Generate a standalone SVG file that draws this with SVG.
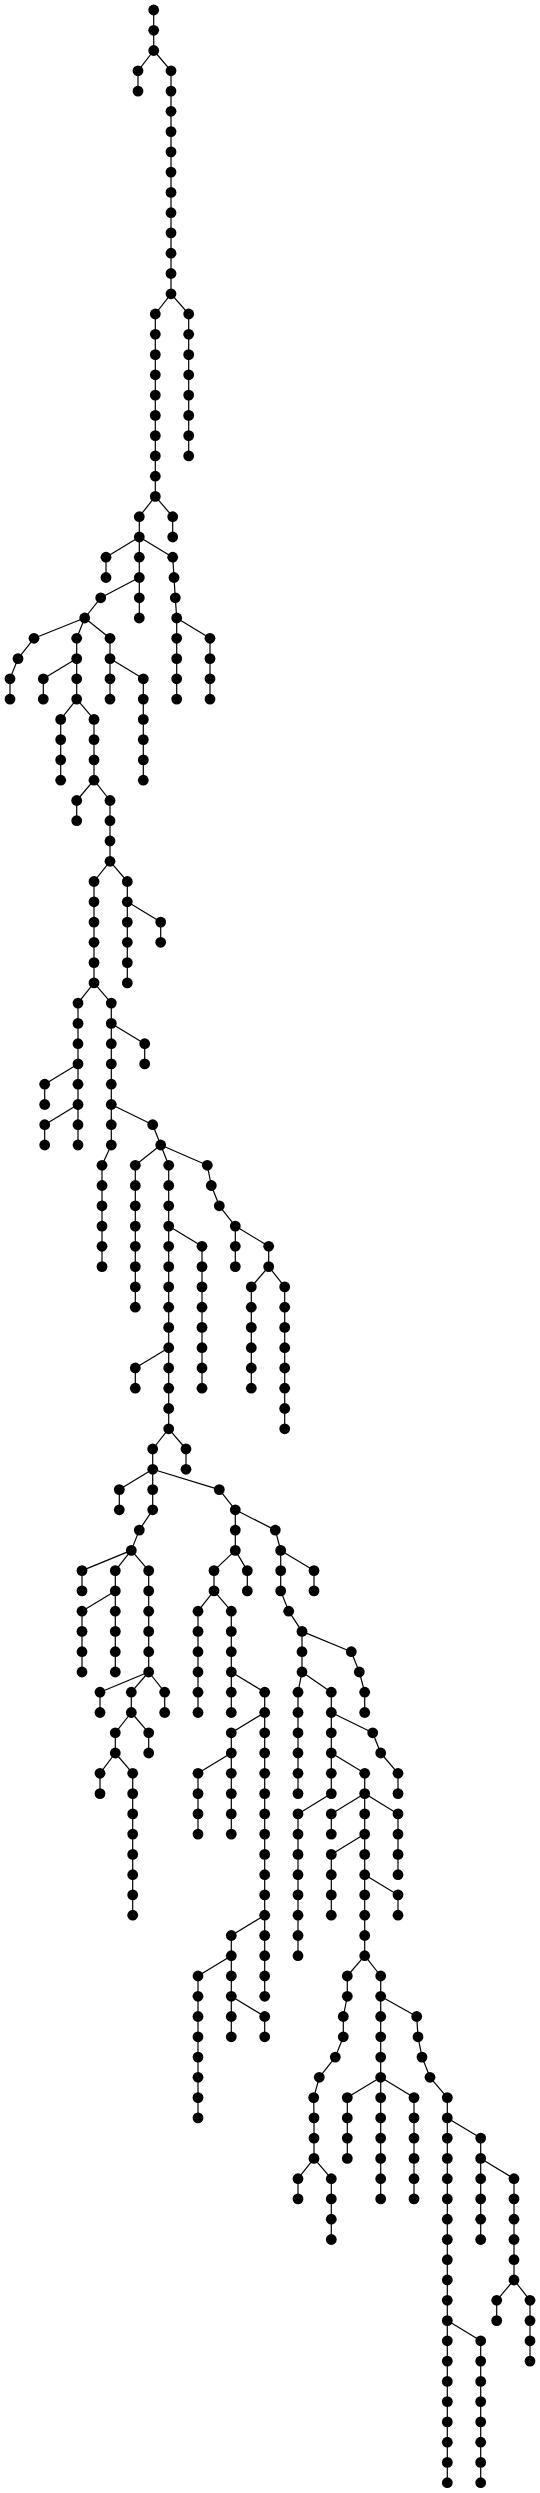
<svg xmlns="http://www.w3.org/2000/svg" width="540" height="2493" viewBox="0 0 540 2493">
<style>
#edges path{stroke:#000;stroke-width:1.2;fill:none}
.nodes circle{fill:#000;r:5.4px}
</style>
<rect width="540" height="2493" fill="#fff"/>
<g id="edges">
<path d="M153.7 10V30.3"/><path d="M153.7 30.3V50.5"/><path d="M153.7 50.5L138 70.8"/><path d="M138 70.8V91.1"/><path d="M153.7 50.5L171 70.8"/>
<path d="M171 70.8V91.1"/><path d="M171 91.1V111.3"/><path d="M171 111.3V131.6"/><path d="M171 131.6V151.9"/><path d="M171 151.9V172.1"/><path d="M171 172.1V192.4"/><path d="M171 192.4V212.7"/><path d="M171 212.7V232.9"/><path d="M171 232.9V253.2"/><path d="M171 253.2V273.5"/><path d="M171 273.5V293.8"/>
<path d="M171 293.8L188.7 314"/><path d="M188.7 314V334.3"/><path d="M188.7 334.3V354.6"/><path d="M188.7 354.6V374.8"/><path d="M188.7 374.8V395.1"/><path d="M188.7 395.1V415.4"/><path d="M188.7 415.4V435.6"/><path d="M188.7 435.6V455.9"/>
<path d="M171 293.8L155.3 314"/><path d="M155.3 314V334.3"/><path d="M155.3 334.3V354.6"/><path d="M155.3 354.6V374.8"/><path d="M155.3 374.8V395.1"/><path d="M155.3 395.1V415.4"/><path d="M155.3 415.4V435.6"/><path d="M155.3 435.6V455.9"/><path d="M155.3 455.9V476.2"/><path d="M155.3 476.2V496.4"/>
<path d="M155.3 496.4L172.7 516.7"/><path d="M172.7 516.7V537"/><path d="M155.3 496.4L139.3 516.7"/><path d="M139.3 516.7V537"/>
<path d="M139.3 537L106 557.2"/><path d="M106 557.2V577.5"/>
<path d="M139.3 537V557.2"/><path d="M139.3 557.2V577.5"/><path d="M139.3 577.5V597.8"/><path d="M139.3 597.8V618"/>
<path d="M139.3 577.5L100.7 597.8"/><path d="M100.7 597.8L84.7 618"/>
<path d="M139.3 537L172.7 557.2"/><path d="M172.7 557.2L174 577.5"/><path d="M174 577.5L175.3 597.8"/><path d="M175.3 597.8L176.7 618"/>
<path d="M176.7 618V638.3"/><path d="M176.7 638.3V658.6"/><path d="M176.7 658.6V678.8"/><path d="M176.7 678.8V699.1"/>
<path d="M176.7 618L210 638.3"/><path d="M210 638.3V658.6"/><path d="M210 658.6V678.8"/><path d="M210 678.8V699.1"/>
<path d="M84.7 618L34 638.3"/><path d="M34 638.3L18 658.6"/><path d="M18 658.6L10 678.8"/><path d="M10 678.8V699.1"/>
<path d="M84.7 618L76.7 638.3"/><path d="M76.7 638.3V658.6"/><path d="M76.7 658.6V678.8"/><path d="M76.7 678.8V699.1"/>
<path d="M76.7 658.6L43.3 678.8"/><path d="M43.3 678.8V699.1"/>
<path d="M76.7 699.1L60.7 719.4"/><path d="M60.7 719.4V739.6"/><path d="M60.7 739.6V759.9"/><path d="M60.7 759.9V780.2"/>
<path d="M76.7 699.1L94 719.4"/><path d="M94 719.4V739.6"/><path d="M94 739.6V759.9"/><path d="M94 759.9V780.2"/>
<path d="M94 780.2L76.7 800.5"/><path d="M76.7 800.5V820.7"/>
<path d="M94 780.2L110 800.5"/><path d="M110 800.5V820.7"/><path d="M110 820.7V841"/><path d="M110 841V861.3"/>
<path d="M84.7 618L110 638.3"/><path d="M110 638.3V658.6"/><path d="M110 658.6V678.8"/><path d="M110 678.8V699.1"/>
<path d="M110 658.6L143.3 678.8"/><path d="M143.3 678.8V699.1"/><path d="M143.3 699.1V719.4"/><path d="M143.3 719.4V739.6"/><path d="M143.3 739.6V759.9"/><path d="M143.3 759.9V780.2"/>
<path d="M110 861.3L94 881.5"/><path d="M94 881.5V901.8"/><path d="M94 901.8V922.1"/><path d="M94 922.1V942.3"/><path d="M94 942.3V962.6"/><path d="M94 962.6V982.9"/>
<path d="M110 861.3L127.3 881.5"/><path d="M127.3 881.5V901.8"/><path d="M127.3 901.8V922.1"/><path d="M127.3 922.1V942.3"/><path d="M127.3 942.3V962.6"/><path d="M127.3 962.6V982.9"/>
<path d="M127.3 901.8L160.7 922.1"/><path d="M160.7 922.1V942.3"/>
<path d="M94 982.9L78 1003.1"/><path d="M78 1003.1V1023.4"/><path d="M78 1023.4V1043.7"/><path d="M78 1043.7V1063.9"/><path d="M78 1063.9V1084.2"/><path d="M78 1084.2V1104.5"/><path d="M78 1104.5V1124.7"/><path d="M78 1124.7V1145"/>
<path d="M78 1063.9L44.7 1084.2"/><path d="M44.7 1084.2V1104.5"/>
<path d="M78 1104.5L44.7 1124.7"/><path d="M44.7 1124.7V1145"/>
<path d="M94 982.9L111.3 1003.1"/><path d="M111.3 1003.1V1023.4"/><path d="M111.3 1023.4V1043.7"/><path d="M111.3 1043.7V1063.9"/><path d="M111.3 1063.9V1084.2"/><path d="M111.3 1084.2V1104.5"/><path d="M111.3 1104.5V1124.7"/><path d="M111.3 1124.7V1145"/>
<path d="M111.3 1023.4L144.7 1043.7"/><path d="M144.7 1043.7V1063.9"/>
<path d="M111.3 1145L102 1165.3"/><path d="M102 1165.3V1185.5"/><path d="M102 1185.5V1205.8"/><path d="M102 1205.8V1226.1"/><path d="M102 1226.1V1246.3"/><path d="M102 1246.3V1266.6"/>
<path d="M111.3 1104.5L152.7 1124.7"/><path d="M152.7 1124.7L160.7 1145"/>
<path d="M160.7 1145L135.3 1165.3"/><path d="M135.3 1165.3V1185.5"/><path d="M135.3 1185.5V1205.8"/><path d="M135.3 1205.8V1226.1"/><path d="M135.3 1226.1V1246.3"/><path d="M135.3 1246.3V1266.6"/><path d="M135.3 1266.6V1286.9"/><path d="M135.3 1286.9V1307.2"/>
<path d="M160.7 1145L168.7 1165.3"/><path d="M168.7 1165.3V1185.5"/><path d="M168.7 1185.5V1205.8"/><path d="M168.7 1205.8V1226.1"/><path d="M168.7 1226.1V1246.3"/><path d="M168.7 1246.3V1266.6"/><path d="M168.7 1266.6V1286.9"/><path d="M168.7 1286.9V1307.2"/><path d="M168.7 1307.2V1327.4"/><path d="M168.7 1327.4V1347.7"/><path d="M168.7 1347.7V1368"/><path d="M168.7 1368V1388.2"/><path d="M168.7 1388.2V1408.5"/><path d="M168.7 1408.5V1428.8"/>
<path d="M168.7 1226.1L202 1246.3"/><path d="M202 1246.3V1266.6"/><path d="M202 1266.6V1286.9"/><path d="M202 1286.9V1307.2"/><path d="M202 1307.2V1327.4"/><path d="M202 1327.4V1347.7"/><path d="M202 1347.7V1368"/><path d="M202 1368V1388.2"/>
<path d="M168.7 1347.7L135.3 1368"/><path d="M135.3 1368V1388.2"/>
<path d="M160.7 1145L207.3 1165.3"/><path d="M207.3 1165.3L211.3 1185.5"/><path d="M211.3 1185.5L219.3 1205.8"/><path d="M219.3 1205.8L235.3 1226.1"/><path d="M235.3 1226.1V1246.3"/><path d="M235.3 1246.3V1266.6"/>
<path d="M235.3 1226.1L268.7 1246.3"/><path d="M268.7 1246.3V1266.6"/>
<path d="M268.7 1266.6L251.3 1286.9"/><path d="M251.3 1286.9V1307.2"/><path d="M251.3 1307.2V1327.4"/><path d="M251.3 1327.4V1347.7"/><path d="M251.3 1347.7V1368"/><path d="M251.3 1368V1388.2"/>
<path d="M268.7 1266.6L284.7 1286.9"/><path d="M284.7 1286.9V1307.2"/><path d="M284.7 1307.2V1327.4"/><path d="M284.7 1327.4V1347.7"/><path d="M284.7 1347.7V1368"/><path d="M284.7 1368V1388.2"/><path d="M284.7 1388.2V1408.5"/><path d="M284.7 1408.5V1428.8"/>
<path d="M168.7 1428.8L152.7 1449"/><path d="M152.7 1449V1469.3"/>
<path d="M168.7 1428.8L186 1449"/><path d="M186 1449V1469.3"/>
<path d="M152.7 1469.3L119.3 1489.6"/><path d="M119.3 1489.6V1509.8"/>
<path d="M152.7 1469.3V1489.6"/><path d="M152.7 1489.6V1509.8"/><path d="M152.7 1509.8L139.3 1530.1"/><path d="M139.3 1530.1L131.3 1550.4"/>
<path d="M152.7 1469.3L219.3 1489.6"/><path d="M219.3 1489.6L235.3 1509.8"/>
<path d="M131.3 1550.4L82 1570.6"/><path d="M82 1570.6V1590.9"/>
<path d="M131.3 1550.4L115.3 1570.6"/><path d="M115.3 1570.6V1590.9"/><path d="M115.3 1590.9V1611.2"/><path d="M115.3 1611.2V1631.4"/><path d="M115.3 1631.4V1651.7"/><path d="M115.3 1651.7V1672"/>
<path d="M115.3 1590.9L82 1611.2"/><path d="M82 1611.2V1631.4"/><path d="M82 1631.4V1651.7"/><path d="M82 1651.7V1672"/>
<path d="M131.3 1550.4L148.7 1570.6"/><path d="M148.7 1570.6V1590.9"/><path d="M148.7 1590.9V1611.2"/><path d="M148.7 1611.2V1631.4"/><path d="M148.7 1631.4V1651.7"/><path d="M148.7 1651.7V1672"/>
<path d="M148.7 1672L100 1692.2"/><path d="M100 1692.2V1712.5"/>
<path d="M148.7 1672L131.3 1692.2"/><path d="M131.3 1692.2V1712.5"/>
<path d="M148.7 1672L164.7 1692.2"/><path d="M164.7 1692.2V1712.5"/>
<path d="M131.3 1712.5L148.7 1732.8"/><path d="M148.7 1732.8V1753"/>
<path d="M131.3 1712.5L115.3 1732.8"/><path d="M115.3 1732.8V1753"/>
<path d="M115.3 1753L100 1773.3"/><path d="M100 1773.3V1793.6"/>
<path d="M115.3 1753L132.7 1773.3"/><path d="M132.7 1773.3V1793.6"/><path d="M132.7 1793.6V1813.9"/><path d="M132.7 1813.9V1834.1"/><path d="M132.7 1834.1V1854.4"/><path d="M132.7 1854.4V1874.7"/><path d="M132.7 1874.7V1894.9"/><path d="M132.7 1894.9V1915.2"/>
<path d="M235.3 1509.8V1530.1"/><path d="M235.3 1530.1V1550.4"/>
<path d="M235.3 1509.8L275.3 1530.1"/><path d="M275.3 1530.1L280.7 1550.4"/>
<path d="M235.3 1550.4L214 1570.6"/><path d="M214 1570.6V1590.9"/>
<path d="M235.3 1550.4L247.3 1570.6"/><path d="M247.3 1570.6V1590.9"/>
<path d="M214 1590.9L198 1611.2"/><path d="M198 1611.2V1631.4"/><path d="M198 1631.4V1651.7"/><path d="M198 1651.7V1672"/><path d="M198 1672V1692.2"/><path d="M198 1692.2V1712.5"/>
<path d="M214 1590.9L231.3 1611.2"/><path d="M231.3 1611.2V1631.4"/><path d="M231.3 1631.4V1651.7"/><path d="M231.3 1651.7V1672"/>
<path d="M231.3 1672V1692.2"/><path d="M231.3 1692.2V1712.5"/>
<path d="M231.3 1672L264.7 1692.2"/><path d="M264.7 1692.2V1712.5"/><path d="M264.7 1712.5V1732.8"/><path d="M264.7 1732.8V1753"/><path d="M264.7 1753V1773.3"/><path d="M264.7 1773.3V1793.6"/><path d="M264.7 1793.6V1813.9"/><path d="M264.7 1813.9V1834.1"/><path d="M264.7 1834.1V1854.4"/><path d="M264.7 1854.4V1874.7"/><path d="M264.7 1874.7V1894.9"/><path d="M264.7 1894.9V1915.2"/><path d="M264.7 1915.2V1935.5"/><path d="M264.7 1935.5V1955.7"/><path d="M264.7 1955.7V1976"/><path d="M264.7 1976V1996.3"/>
<path d="M264.7 1712.5L231.3 1732.8"/><path d="M231.3 1732.8V1753"/>
<path d="M231.3 1753L198 1773.3"/><path d="M198 1773.3V1793.6"/><path d="M198 1793.6V1813.9"/><path d="M198 1813.9V1834.1"/>
<path d="M231.3 1753V1773.3"/><path d="M231.3 1773.3V1793.6"/><path d="M231.3 1793.6V1813.9"/><path d="M231.3 1813.9V1834.1"/>
<path d="M264.7 1915.2L231.3 1935.5"/><path d="M231.3 1935.5V1955.7"/><path d="M231.3 1955.7V1976"/><path d="M231.3 1976V1996.3"/><path d="M231.3 1996.3V2016.5"/><path d="M231.3 2016.5V2036.8"/>
<path d="M231.3 1955.7L198 1976"/><path d="M198 1976V1996.3"/><path d="M198 1996.3V2016.5"/><path d="M198 2016.5V2036.8"/><path d="M198 2036.8V2057.1"/><path d="M198 2057.1V2077.3"/><path d="M198 2077.3V2097.6"/><path d="M198 2097.6V2117.9"/>
<path d="M231.3 1996.3L264.7 2016.5"/><path d="M264.7 2016.5V2036.8"/>
<path d="M280.7 1550.4V1570.6"/><path d="M280.7 1570.6V1590.9"/><path d="M280.7 1590.9L288.7 1611.2"/><path d="M288.7 1611.2L302 1631.4"/>
<path d="M280.7 1550.4L314 1570.6"/><path d="M314 1570.6V1590.9"/>
<path d="M302 1631.4V1651.7"/><path d="M302 1651.7V1672"/>
<path d="M302 1631.4L351.3 1651.7"/><path d="M351.3 1651.7L359.3 1672"/><path d="M359.3 1672L364.7 1692.2"/><path d="M364.7 1692.2V1712.5"/>
<path d="M302 1672L298 1692.2"/><path d="M298 1692.2V1712.5"/><path d="M298 1712.5V1732.8"/><path d="M298 1732.8V1753"/><path d="M298 1753V1773.3"/><path d="M298 1773.3V1793.6"/>
<path d="M302 1672L331.3 1692.2"/><path d="M331.3 1692.2V1712.5"/><path d="M331.3 1712.5V1732.8"/><path d="M331.3 1732.8V1753"/><path d="M331.3 1753V1773.3"/><path d="M331.3 1773.3V1793.6"/>
<path d="M331.3 1712.5L372.7 1732.8"/><path d="M372.7 1732.8L380.7 1753"/><path d="M380.7 1753L398 1773.3"/><path d="M398 1773.3V1793.6"/>
<path d="M331.3 1753L364.7 1773.3"/><path d="M364.7 1773.3V1793.6"/>
<path d="M331.3 1793.6L298 1813.9"/><path d="M298 1813.9V1834.1"/><path d="M298 1834.1V1854.4"/><path d="M298 1854.4V1874.7"/><path d="M298 1874.7V1894.9"/><path d="M298 1894.9V1915.2"/><path d="M298 1915.2V1935.5"/><path d="M298 1935.5V1955.7"/>
<path d="M364.7 1793.6L331.3 1813.9"/><path d="M331.3 1813.9V1834.1"/>
<path d="M364.7 1793.6V1813.9"/><path d="M364.7 1813.9V1834.1"/><path d="M364.7 1834.1V1854.4"/><path d="M364.7 1854.4V1874.7"/><path d="M364.7 1874.7V1894.9"/><path d="M364.7 1894.9V1915.2"/><path d="M364.7 1915.2V1935.5"/><path d="M364.7 1935.5V1955.7"/>
<path d="M364.7 1834.1L331.3 1854.4"/><path d="M331.3 1854.4V1874.7"/><path d="M331.3 1874.7V1894.9"/><path d="M331.3 1894.9V1915.2"/>
<path d="M364.7 1874.7L398 1894.9"/><path d="M398 1894.9V1915.2"/>
<path d="M364.7 1793.6L398 1813.9"/><path d="M398 1813.9V1834.1"/><path d="M398 1834.1V1854.4"/><path d="M398 1854.4V1874.7"/>
<path d="M364.7 1955.7L347.3 1976"/><path d="M347.3 1976V1996.3"/><path d="M347.3 1996.3L343.3 2016.5"/><path d="M343.3 2016.5V2036.8"/><path d="M343.3 2036.8L335.3 2057.1"/><path d="M335.3 2057.1L319.3 2077.3"/><path d="M319.3 2077.3L313.7 2097.6"/><path d="M313.7 2097.6L314 2117.9"/><path d="M314 2117.9V2138.1"/><path d="M314 2138.1V2158.4"/>
<path d="M314 2158.4L298 2178.7"/><path d="M298 2178.7V2198.9"/>
<path d="M314 2158.4L331.3 2178.7"/><path d="M331.3 2178.7V2198.9"/><path d="M331.3 2198.9V2219.2"/><path d="M331.3 2219.2V2239.5"/>
<path d="M364.7 1955.7L380.7 1976"/><path d="M380.7 1976V1996.3"/>
<path d="M380.7 1996.3V2016.5"/><path d="M380.7 2016.5V2036.8"/><path d="M380.7 2036.8V2057.1"/><path d="M380.7 2057.1V2077.3"/>
<path d="M380.7 1996.3L416.7 2016.5"/><path d="M416.7 2016.5L418 2036.8"/><path d="M418 2036.8L422 2057.1"/><path d="M422 2057.1L430 2077.3"/><path d="M430 2077.3L447.3 2097.6"/>
<path d="M447.3 2097.6V2117.9"/><path d="M447.3 2117.9V2138.1"/><path d="M447.3 2138.1V2158.4"/><path d="M447.3 2158.4V2178.7"/><path d="M447.3 2178.7V2198.9"/><path d="M447.3 2198.9V2219.2"/><path d="M447.3 2219.2V2239.5"/><path d="M447.3 2239.5V2259.7"/><path d="M447.3 2259.7V2280"/><path d="M447.3 2280V2300.3"/><path d="M447.3 2300.3V2320.6"/>
<path d="M447.3 2117.9L480.7 2138.1"/><path d="M480.7 2138.1V2158.4"/><path d="M480.7 2158.4V2178.7"/><path d="M480.7 2178.7V2198.9"/><path d="M480.7 2198.9V2219.2"/><path d="M480.7 2219.2V2239.5"/>
<path d="M480.7 2158.4L514 2178.7"/><path d="M514 2178.7V2198.9"/><path d="M514 2198.9V2219.2"/><path d="M514 2219.2V2239.5"/><path d="M514 2239.5V2259.7"/><path d="M514 2259.7V2280"/>
<path d="M514 2280L496.7 2300.3"/><path d="M496.7 2300.3V2320.6"/>
<path d="M514 2280L530 2300.3"/><path d="M530 2300.3V2320.6"/><path d="M530 2320.6V2340.8"/><path d="M530 2340.8V2361.1"/>
<path d="M447.3 2320.6V2340.8"/><path d="M447.3 2340.8V2361.1"/><path d="M447.3 2361.1V2381.4"/><path d="M447.3 2381.4V2401.6"/><path d="M447.3 2401.6V2421.9"/><path d="M447.3 2421.9V2442.2"/><path d="M447.3 2442.2V2462.4"/><path d="M447.3 2462.4V2482.7"/>
<path d="M447.3 2320.6L480.7 2340.8"/><path d="M480.7 2340.8V2361.1"/><path d="M480.7 2361.1V2381.4"/><path d="M480.7 2381.4V2401.6"/><path d="M480.7 2401.6V2421.9"/><path d="M480.7 2421.9V2442.2"/><path d="M480.7 2442.2V2462.4"/><path d="M480.7 2462.4V2482.7"/>
<path d="M380.7 2077.3L347.3 2097.6"/><path d="M347.3 2097.6V2117.9"/><path d="M347.3 2117.9V2138.1"/><path d="M347.3 2138.1V2158.4"/>
<path d="M380.7 2077.3V2097.6"/><path d="M380.7 2097.6V2117.9"/><path d="M380.7 2117.9V2138.1"/><path d="M380.7 2138.1V2158.4"/><path d="M380.7 2158.4V2178.7"/><path d="M380.7 2178.7V2198.9"/>
<path d="M380.7 2077.3L414 2097.6"/><path d="M414 2097.6V2117.9"/><path d="M414 2117.9V2138.1"/><path d="M414 2138.1V2158.4"/><path d="M414 2158.4V2178.7"/><path d="M414 2178.7V2198.9"/>
</g>
<g class="nodes">
<g id="n1"><circle cx="153.7" cy="10"/></g><g id="n2"><circle cx="153.7" cy="30.3"/></g><g id="n3"><circle cx="153.7" cy="50.5"/></g><g id="n4"><circle cx="138" cy="70.8"/></g><g id="n5"><circle cx="138" cy="91.1"/></g>
<g id="n6"><circle cx="171" cy="70.8"/></g><g id="n7"><circle cx="171" cy="91.1"/></g><g id="n8"><circle cx="171" cy="111.3"/></g><g id="n9"><circle cx="171" cy="131.6"/></g><g id="n10"><circle cx="171" cy="151.9"/></g><g id="n11"><circle cx="171" cy="172.1"/></g><g id="n12"><circle cx="171" cy="192.4"/></g><g id="n13"><circle cx="171" cy="212.7"/></g><g id="n14"><circle cx="171" cy="232.9"/></g><g id="n15"><circle cx="171" cy="253.2"/></g><g id="n16"><circle cx="171" cy="273.5"/></g><g id="n17"><circle cx="171" cy="293.8"/></g>
<g id="n18"><circle cx="188.7" cy="314"/></g><g id="n19"><circle cx="188.7" cy="334.3"/></g><g id="n20"><circle cx="188.7" cy="354.6"/></g><g id="n21"><circle cx="188.7" cy="374.8"/></g><g id="n22"><circle cx="188.7" cy="395.1"/></g><g id="n23"><circle cx="188.7" cy="415.4"/></g><g id="n24"><circle cx="188.7" cy="435.6"/></g><g id="n25"><circle cx="188.7" cy="455.9"/></g>
<g id="n26"><circle cx="155.3" cy="314"/></g><g id="n27"><circle cx="155.3" cy="334.3"/></g><g id="n28"><circle cx="155.3" cy="354.6"/></g><g id="n29"><circle cx="155.3" cy="374.8"/></g><g id="n30"><circle cx="155.3" cy="395.1"/></g><g id="n31"><circle cx="155.3" cy="415.4"/></g><g id="n32"><circle cx="155.3" cy="435.6"/></g><g id="n33"><circle cx="155.3" cy="455.9"/></g><g id="n34"><circle cx="155.3" cy="476.2"/></g><g id="n35"><circle cx="155.3" cy="496.4"/></g>
<g id="n36"><circle cx="172.7" cy="516.7"/></g><g id="n37"><circle cx="172.7" cy="537"/></g><g id="n38"><circle cx="139.3" cy="516.7"/></g><g id="n39"><circle cx="139.3" cy="537"/></g>
<g id="n40"><circle cx="106" cy="557.2"/></g><g id="n41"><circle cx="106" cy="577.5"/></g>
<g id="n42"><circle cx="139.3" cy="557.2"/></g><g id="n43"><circle cx="139.3" cy="577.5"/></g><g id="n44"><circle cx="139.3" cy="597.8"/></g><g id="n45"><circle cx="139.3" cy="618"/></g>
<g id="n46"><circle cx="100.7" cy="597.8"/></g><g id="n47"><circle cx="84.7" cy="618"/></g>
<g id="n48"><circle cx="172.7" cy="557.2"/></g><g id="n49"><circle cx="174" cy="577.5"/></g><g id="n50"><circle cx="175.3" cy="597.8"/></g><g id="n51"><circle cx="176.7" cy="618"/></g>
<g id="n52"><circle cx="176.7" cy="638.3"/></g><g id="n53"><circle cx="176.7" cy="658.6"/></g><g id="n54"><circle cx="176.7" cy="678.8"/></g><g id="n55"><circle cx="176.7" cy="699.1"/></g>
<g id="n56"><circle cx="210" cy="638.3"/></g><g id="n57"><circle cx="210" cy="658.6"/></g><g id="n58"><circle cx="210" cy="678.8"/></g><g id="n59"><circle cx="210" cy="699.1"/></g>
<g id="n60"><circle cx="34" cy="638.3"/></g><g id="n61"><circle cx="18" cy="658.6"/></g><g id="n62"><circle cx="10" cy="678.8"/></g><g id="n63"><circle cx="10" cy="699.1"/></g>
<g id="n64"><circle cx="76.7" cy="638.3"/></g><g id="n65"><circle cx="76.7" cy="658.6"/></g><g id="n66"><circle cx="76.7" cy="678.8"/></g><g id="n67"><circle cx="76.7" cy="699.1"/></g>
<g id="n68"><circle cx="43.3" cy="678.8"/></g><g id="n69"><circle cx="43.3" cy="699.1"/></g>
<g id="n70"><circle cx="60.7" cy="719.4"/></g><g id="n71"><circle cx="60.7" cy="739.6"/></g><g id="n72"><circle cx="60.7" cy="759.9"/></g><g id="n73"><circle cx="60.7" cy="780.2"/></g>
<g id="n74"><circle cx="94" cy="719.4"/></g><g id="n75"><circle cx="94" cy="739.6"/></g><g id="n76"><circle cx="94" cy="759.9"/></g><g id="n77"><circle cx="94" cy="780.2"/></g>
<g id="n78"><circle cx="76.7" cy="800.5"/></g><g id="n79"><circle cx="76.7" cy="820.7"/></g>
<g id="n80"><circle cx="110" cy="800.5"/></g><g id="n81"><circle cx="110" cy="820.7"/></g><g id="n82"><circle cx="110" cy="841"/></g><g id="n83"><circle cx="110" cy="861.3"/></g>
<g id="n84"><circle cx="110" cy="638.3"/></g><g id="n85"><circle cx="110" cy="658.6"/></g><g id="n86"><circle cx="110" cy="678.8"/></g><g id="n87"><circle cx="110" cy="699.1"/></g>
<g id="n88"><circle cx="143.3" cy="678.8"/></g><g id="n89"><circle cx="143.3" cy="699.1"/></g><g id="n90"><circle cx="143.3" cy="719.4"/></g><g id="n91"><circle cx="143.3" cy="739.6"/></g><g id="n92"><circle cx="143.3" cy="759.9"/></g><g id="n93"><circle cx="143.3" cy="780.2"/></g>
<g id="n94"><circle cx="94" cy="881.5"/></g><g id="n95"><circle cx="94" cy="901.8"/></g><g id="n96"><circle cx="94" cy="922.1"/></g><g id="n97"><circle cx="94" cy="942.3"/></g><g id="n98"><circle cx="94" cy="962.6"/></g><g id="n99"><circle cx="94" cy="982.9"/></g>
<g id="n100"><circle cx="127.3" cy="881.5"/></g><g id="n101"><circle cx="127.3" cy="901.8"/></g><g id="n102"><circle cx="127.3" cy="922.1"/></g><g id="n103"><circle cx="127.3" cy="942.3"/></g><g id="n104"><circle cx="127.3" cy="962.6"/></g><g id="n105"><circle cx="127.3" cy="982.9"/></g>
<g id="n106"><circle cx="160.7" cy="922.1"/></g><g id="n107"><circle cx="160.7" cy="942.3"/></g>
<g id="n108"><circle cx="78" cy="1003.1"/></g><g id="n109"><circle cx="78" cy="1023.4"/></g><g id="n110"><circle cx="78" cy="1043.7"/></g><g id="n111"><circle cx="78" cy="1063.9"/></g><g id="n112"><circle cx="78" cy="1084.2"/></g><g id="n113"><circle cx="78" cy="1104.5"/></g><g id="n114"><circle cx="78" cy="1124.7"/></g><g id="n115"><circle cx="78" cy="1145"/></g>
<g id="n116"><circle cx="44.7" cy="1084.2"/></g><g id="n117"><circle cx="44.7" cy="1104.5"/></g><g id="n118"><circle cx="44.7" cy="1124.7"/></g><g id="n119"><circle cx="44.7" cy="1145"/></g>
<g id="n120"><circle cx="111.3" cy="1003.1"/></g><g id="n121"><circle cx="111.3" cy="1023.4"/></g><g id="n122"><circle cx="111.3" cy="1043.7"/></g><g id="n123"><circle cx="111.3" cy="1063.9"/></g><g id="n124"><circle cx="111.3" cy="1084.2"/></g><g id="n125"><circle cx="111.3" cy="1104.5"/></g><g id="n126"><circle cx="111.3" cy="1124.7"/></g><g id="n127"><circle cx="111.3" cy="1145"/></g>
<g id="n128"><circle cx="144.7" cy="1043.7"/></g><g id="n129"><circle cx="144.7" cy="1063.9"/></g>
<g id="n130"><circle cx="102" cy="1165.3"/></g><g id="n131"><circle cx="102" cy="1185.5"/></g><g id="n132"><circle cx="102" cy="1205.8"/></g><g id="n133"><circle cx="102" cy="1226.1"/></g><g id="n134"><circle cx="102" cy="1246.3"/></g><g id="n135"><circle cx="102" cy="1266.6"/></g>
<g id="n136"><circle cx="152.7" cy="1124.7"/></g><g id="n137"><circle cx="160.7" cy="1145"/></g>
<g id="n138"><circle cx="135.3" cy="1165.3"/></g><g id="n139"><circle cx="135.3" cy="1185.5"/></g><g id="n140"><circle cx="135.3" cy="1205.8"/></g><g id="n141"><circle cx="135.3" cy="1226.1"/></g><g id="n142"><circle cx="135.3" cy="1246.3"/></g><g id="n143"><circle cx="135.3" cy="1266.6"/></g><g id="n144"><circle cx="135.3" cy="1286.9"/></g><g id="n145"><circle cx="135.3" cy="1307.2"/></g>
<g id="n146"><circle cx="168.7" cy="1165.3"/></g><g id="n147"><circle cx="168.7" cy="1185.5"/></g><g id="n148"><circle cx="168.7" cy="1205.8"/></g><g id="n149"><circle cx="168.7" cy="1226.1"/></g><g id="n150"><circle cx="168.7" cy="1246.3"/></g><g id="n151"><circle cx="168.7" cy="1266.6"/></g><g id="n152"><circle cx="168.7" cy="1286.9"/></g><g id="n153"><circle cx="168.7" cy="1307.2"/></g><g id="n154"><circle cx="168.7" cy="1327.4"/></g><g id="n155"><circle cx="168.7" cy="1347.7"/></g><g id="n156"><circle cx="168.7" cy="1368"/></g><g id="n157"><circle cx="168.7" cy="1388.2"/></g><g id="n158"><circle cx="168.7" cy="1408.5"/></g><g id="n159"><circle cx="168.7" cy="1428.8"/></g>
<g id="n160"><circle cx="202" cy="1246.3"/></g><g id="n161"><circle cx="202" cy="1266.6"/></g><g id="n162"><circle cx="202" cy="1286.9"/></g><g id="n163"><circle cx="202" cy="1307.2"/></g><g id="n164"><circle cx="202" cy="1327.4"/></g><g id="n165"><circle cx="202" cy="1347.7"/></g><g id="n166"><circle cx="202" cy="1368"/></g><g id="n167"><circle cx="202" cy="1388.2"/></g>
<g id="n168"><circle cx="135.3" cy="1368"/></g><g id="n169"><circle cx="135.3" cy="1388.2"/></g>
<g id="n170"><circle cx="207.3" cy="1165.3"/></g><g id="n171"><circle cx="211.3" cy="1185.5"/></g><g id="n172"><circle cx="219.3" cy="1205.8"/></g><g id="n173"><circle cx="235.3" cy="1226.1"/></g><g id="n174"><circle cx="235.3" cy="1246.3"/></g><g id="n175"><circle cx="235.3" cy="1266.6"/></g>
<g id="n176"><circle cx="268.7" cy="1246.3"/></g><g id="n177"><circle cx="268.7" cy="1266.6"/></g>
<g id="n178"><circle cx="251.3" cy="1286.9"/></g><g id="n179"><circle cx="251.3" cy="1307.2"/></g><g id="n180"><circle cx="251.3" cy="1327.4"/></g><g id="n181"><circle cx="251.3" cy="1347.7"/></g><g id="n182"><circle cx="251.3" cy="1368"/></g><g id="n183"><circle cx="251.3" cy="1388.2"/></g>
<g id="n184"><circle cx="284.7" cy="1286.9"/></g><g id="n185"><circle cx="284.7" cy="1307.2"/></g><g id="n186"><circle cx="284.7" cy="1327.4"/></g><g id="n187"><circle cx="284.7" cy="1347.7"/></g><g id="n188"><circle cx="284.7" cy="1368"/></g><g id="n189"><circle cx="284.7" cy="1388.2"/></g><g id="n190"><circle cx="284.7" cy="1408.5"/></g><g id="n191"><circle cx="284.7" cy="1428.8"/></g>
<g id="n192"><circle cx="152.7" cy="1449"/></g><g id="n193"><circle cx="152.7" cy="1469.3"/></g><g id="n194"><circle cx="186" cy="1449"/></g><g id="n195"><circle cx="186" cy="1469.3"/></g>
<g id="n196"><circle cx="119.3" cy="1489.6"/></g><g id="n197"><circle cx="119.3" cy="1509.8"/></g>
<g id="n198"><circle cx="152.7" cy="1489.6"/></g><g id="n199"><circle cx="152.7" cy="1509.8"/></g><g id="n200"><circle cx="139.3" cy="1530.1"/></g><g id="n201"><circle cx="131.3" cy="1550.4"/></g>
<g id="n202"><circle cx="219.3" cy="1489.6"/></g><g id="n203"><circle cx="235.3" cy="1509.8"/></g>
<g id="n204"><circle cx="82" cy="1570.6"/></g><g id="n205"><circle cx="82" cy="1590.9"/></g>
<g id="n206"><circle cx="115.3" cy="1570.6"/></g><g id="n207"><circle cx="115.3" cy="1590.9"/></g><g id="n208"><circle cx="115.3" cy="1611.2"/></g><g id="n209"><circle cx="115.3" cy="1631.4"/></g><g id="n210"><circle cx="115.3" cy="1651.7"/></g><g id="n211"><circle cx="115.3" cy="1672"/></g>
<g id="n212"><circle cx="82" cy="1611.2"/></g><g id="n213"><circle cx="82" cy="1631.4"/></g><g id="n214"><circle cx="82" cy="1651.7"/></g><g id="n215"><circle cx="82" cy="1672"/></g>
<g id="n216"><circle cx="148.7" cy="1570.6"/></g><g id="n217"><circle cx="148.7" cy="1590.9"/></g><g id="n218"><circle cx="148.7" cy="1611.2"/></g><g id="n219"><circle cx="148.7" cy="1631.4"/></g><g id="n220"><circle cx="148.7" cy="1651.7"/></g><g id="n221"><circle cx="148.7" cy="1672"/></g>
<g id="n222"><circle cx="100" cy="1692.2"/></g><g id="n223"><circle cx="100" cy="1712.5"/></g>
<g id="n224"><circle cx="131.3" cy="1692.2"/></g><g id="n225"><circle cx="131.3" cy="1712.5"/></g>
<g id="n226"><circle cx="164.7" cy="1692.2"/></g><g id="n227"><circle cx="164.7" cy="1712.5"/></g>
<g id="n228"><circle cx="148.7" cy="1732.8"/></g><g id="n229"><circle cx="148.7" cy="1753"/></g>
<g id="n230"><circle cx="115.3" cy="1732.8"/></g><g id="n231"><circle cx="115.3" cy="1753"/></g>
<g id="n232"><circle cx="100" cy="1773.3"/></g><g id="n233"><circle cx="100" cy="1793.6"/></g>
<g id="n234"><circle cx="132.7" cy="1773.3"/></g><g id="n235"><circle cx="132.7" cy="1793.6"/></g><g id="n236"><circle cx="132.7" cy="1813.9"/></g><g id="n237"><circle cx="132.7" cy="1834.1"/></g><g id="n238"><circle cx="132.7" cy="1854.4"/></g><g id="n239"><circle cx="132.7" cy="1874.7"/></g><g id="n240"><circle cx="132.7" cy="1894.9"/></g><g id="n241"><circle cx="132.7" cy="1915.2"/></g>
<g id="n242"><circle cx="235.3" cy="1530.1"/></g><g id="n243"><circle cx="235.3" cy="1550.4"/></g>
<g id="n244"><circle cx="275.3" cy="1530.1"/></g><g id="n245"><circle cx="280.7" cy="1550.4"/></g>
<g id="n246"><circle cx="214" cy="1570.6"/></g><g id="n247"><circle cx="214" cy="1590.9"/></g>
<g id="n248"><circle cx="247.3" cy="1570.6"/></g><g id="n249"><circle cx="247.3" cy="1590.9"/></g>
<g id="n250"><circle cx="198" cy="1611.2"/></g><g id="n251"><circle cx="198" cy="1631.4"/></g><g id="n252"><circle cx="198" cy="1651.7"/></g><g id="n253"><circle cx="198" cy="1672"/></g><g id="n254"><circle cx="198" cy="1692.2"/></g><g id="n255"><circle cx="198" cy="1712.5"/></g>
<g id="n256"><circle cx="231.3" cy="1611.2"/></g><g id="n257"><circle cx="231.3" cy="1631.4"/></g><g id="n258"><circle cx="231.3" cy="1651.7"/></g><g id="n259"><circle cx="231.3" cy="1672"/></g>
<g id="n260"><circle cx="231.3" cy="1692.2"/></g><g id="n261"><circle cx="231.3" cy="1712.5"/></g>
<g id="n262"><circle cx="264.7" cy="1692.2"/></g><g id="n263"><circle cx="264.7" cy="1712.5"/></g><g id="n264"><circle cx="264.7" cy="1732.8"/></g><g id="n265"><circle cx="264.7" cy="1753"/></g><g id="n266"><circle cx="264.7" cy="1773.3"/></g><g id="n267"><circle cx="264.7" cy="1793.6"/></g><g id="n268"><circle cx="264.7" cy="1813.9"/></g><g id="n269"><circle cx="264.7" cy="1834.1"/></g><g id="n270"><circle cx="264.7" cy="1854.4"/></g><g id="n271"><circle cx="264.7" cy="1874.7"/></g><g id="n272"><circle cx="264.7" cy="1894.9"/></g><g id="n273"><circle cx="264.7" cy="1915.2"/></g><g id="n274"><circle cx="264.7" cy="1935.5"/></g><g id="n275"><circle cx="264.7" cy="1955.7"/></g><g id="n276"><circle cx="264.7" cy="1976"/></g><g id="n277"><circle cx="264.7" cy="1996.3"/></g>
<g id="n278"><circle cx="231.3" cy="1732.8"/></g><g id="n279"><circle cx="231.3" cy="1753"/></g>
<g id="n280"><circle cx="198" cy="1773.3"/></g><g id="n281"><circle cx="198" cy="1793.6"/></g><g id="n282"><circle cx="198" cy="1813.9"/></g><g id="n283"><circle cx="198" cy="1834.1"/></g>
<g id="n284"><circle cx="231.3" cy="1773.3"/></g><g id="n285"><circle cx="231.3" cy="1793.6"/></g><g id="n286"><circle cx="231.3" cy="1813.9"/></g><g id="n287"><circle cx="231.3" cy="1834.1"/></g>
<g id="n288"><circle cx="231.3" cy="1935.5"/></g><g id="n289"><circle cx="231.3" cy="1955.7"/></g><g id="n290"><circle cx="231.3" cy="1976"/></g><g id="n291"><circle cx="231.3" cy="1996.3"/></g><g id="n292"><circle cx="231.3" cy="2016.5"/></g><g id="n293"><circle cx="231.3" cy="2036.8"/></g>
<g id="n294"><circle cx="198" cy="1976"/></g><g id="n295"><circle cx="198" cy="1996.3"/></g><g id="n296"><circle cx="198" cy="2016.5"/></g><g id="n297"><circle cx="198" cy="2036.8"/></g><g id="n298"><circle cx="198" cy="2057.1"/></g><g id="n299"><circle cx="198" cy="2077.3"/></g><g id="n300"><circle cx="198" cy="2097.6"/></g><g id="n301"><circle cx="198" cy="2117.9"/></g>
<g id="n302"><circle cx="264.7" cy="2016.5"/></g><g id="n303"><circle cx="264.7" cy="2036.8"/></g>
<g id="n304"><circle cx="280.7" cy="1570.6"/></g><g id="n305"><circle cx="280.7" cy="1590.9"/></g><g id="n306"><circle cx="288.7" cy="1611.2"/></g><g id="n307"><circle cx="302" cy="1631.4"/></g>
<g id="n308"><circle cx="314" cy="1570.6"/></g><g id="n309"><circle cx="314" cy="1590.9"/></g>
<g id="n310"><circle cx="302" cy="1651.7"/></g><g id="n311"><circle cx="302" cy="1672"/></g>
<g id="n312"><circle cx="351.3" cy="1651.7"/></g><g id="n313"><circle cx="359.3" cy="1672"/></g><g id="n314"><circle cx="364.7" cy="1692.2"/></g><g id="n315"><circle cx="364.7" cy="1712.5"/></g>
<g id="n316"><circle cx="298" cy="1692.2"/></g><g id="n317"><circle cx="298" cy="1712.5"/></g><g id="n318"><circle cx="298" cy="1732.8"/></g><g id="n319"><circle cx="298" cy="1753"/></g><g id="n320"><circle cx="298" cy="1773.3"/></g><g id="n321"><circle cx="298" cy="1793.6"/></g>
<g id="n322"><circle cx="331.3" cy="1692.2"/></g><g id="n323"><circle cx="331.3" cy="1712.5"/></g><g id="n324"><circle cx="331.3" cy="1732.8"/></g><g id="n325"><circle cx="331.3" cy="1753"/></g><g id="n326"><circle cx="331.3" cy="1773.3"/></g><g id="n327"><circle cx="331.3" cy="1793.6"/></g>
<g id="n328"><circle cx="372.7" cy="1732.8"/></g><g id="n329"><circle cx="380.7" cy="1753"/></g><g id="n330"><circle cx="398" cy="1773.3"/></g><g id="n331"><circle cx="398" cy="1793.6"/></g>
<g id="n332"><circle cx="364.7" cy="1773.3"/></g><g id="n333"><circle cx="364.7" cy="1793.6"/></g>
<g id="n334"><circle cx="298" cy="1813.9"/></g><g id="n335"><circle cx="298" cy="1834.1"/></g><g id="n336"><circle cx="298" cy="1854.4"/></g><g id="n337"><circle cx="298" cy="1874.7"/></g><g id="n338"><circle cx="298" cy="1894.9"/></g><g id="n339"><circle cx="298" cy="1915.2"/></g><g id="n340"><circle cx="298" cy="1935.5"/></g><g id="n341"><circle cx="298" cy="1955.7"/></g>
<g id="n342"><circle cx="331.3" cy="1813.9"/></g><g id="n343"><circle cx="331.3" cy="1834.1"/></g>
<g id="n344"><circle cx="364.7" cy="1813.9"/></g><g id="n345"><circle cx="364.7" cy="1834.1"/></g><g id="n346"><circle cx="364.7" cy="1854.4"/></g><g id="n347"><circle cx="364.7" cy="1874.7"/></g><g id="n348"><circle cx="364.7" cy="1894.9"/></g><g id="n349"><circle cx="364.7" cy="1915.2"/></g><g id="n350"><circle cx="364.7" cy="1935.5"/></g><g id="n351"><circle cx="364.7" cy="1955.7"/></g>
<g id="n352"><circle cx="331.3" cy="1854.4"/></g><g id="n353"><circle cx="331.3" cy="1874.7"/></g><g id="n354"><circle cx="331.3" cy="1894.9"/></g><g id="n355"><circle cx="331.3" cy="1915.2"/></g>
<g id="n356"><circle cx="398" cy="1894.9"/></g><g id="n357"><circle cx="398" cy="1915.2"/></g>
<g id="n358"><circle cx="398" cy="1813.9"/></g><g id="n359"><circle cx="398" cy="1834.1"/></g><g id="n360"><circle cx="398" cy="1854.4"/></g><g id="n361"><circle cx="398" cy="1874.7"/></g>
<g id="n362"><circle cx="347.3" cy="1976"/></g><g id="n363"><circle cx="347.3" cy="1996.3"/></g><g id="n364"><circle cx="343.3" cy="2016.5"/></g><g id="n365"><circle cx="343.3" cy="2036.8"/></g><g id="n366"><circle cx="335.3" cy="2057.1"/></g><g id="n367"><circle cx="319.3" cy="2077.3"/></g><g id="n368"><circle cx="313.7" cy="2097.6"/></g><g id="n369"><circle cx="314" cy="2117.9"/></g><g id="n370"><circle cx="314" cy="2138.1"/></g><g id="n371"><circle cx="314" cy="2158.4"/></g>
<g id="n372"><circle cx="298" cy="2178.7"/></g><g id="n373"><circle cx="298" cy="2198.9"/></g>
<g id="n374"><circle cx="331.3" cy="2178.7"/></g><g id="n375"><circle cx="331.3" cy="2198.9"/></g><g id="n376"><circle cx="331.3" cy="2219.2"/></g><g id="n377"><circle cx="331.3" cy="2239.5"/></g>
<g id="n378"><circle cx="380.7" cy="1976"/></g><g id="n379"><circle cx="380.7" cy="1996.3"/></g>
<g id="n380"><circle cx="380.7" cy="2016.5"/></g><g id="n381"><circle cx="380.7" cy="2036.8"/></g><g id="n382"><circle cx="380.7" cy="2057.1"/></g><g id="n383"><circle cx="380.7" cy="2077.3"/></g>
<g id="n384"><circle cx="416.7" cy="2016.5"/></g><g id="n385"><circle cx="418" cy="2036.8"/></g><g id="n386"><circle cx="422" cy="2057.1"/></g><g id="n387"><circle cx="430" cy="2077.3"/></g>
<g id="n388"><circle cx="447.3" cy="2097.6"/></g><g id="n389"><circle cx="447.3" cy="2117.9"/></g><g id="n390"><circle cx="447.3" cy="2138.1"/></g><g id="n391"><circle cx="447.3" cy="2158.4"/></g><g id="n392"><circle cx="447.3" cy="2178.7"/></g><g id="n393"><circle cx="447.3" cy="2198.9"/></g><g id="n394"><circle cx="447.3" cy="2219.2"/></g><g id="n395"><circle cx="447.3" cy="2239.5"/></g><g id="n396"><circle cx="447.3" cy="2259.7"/></g><g id="n397"><circle cx="447.3" cy="2280"/></g><g id="n398"><circle cx="447.3" cy="2300.3"/></g><g id="n399"><circle cx="447.3" cy="2320.6"/></g>
<g id="n400"><circle cx="480.7" cy="2138.1"/></g><g id="n401"><circle cx="480.7" cy="2158.4"/></g><g id="n402"><circle cx="480.7" cy="2178.7"/></g><g id="n403"><circle cx="480.7" cy="2198.9"/></g><g id="n404"><circle cx="480.7" cy="2219.2"/></g><g id="n405"><circle cx="480.7" cy="2239.5"/></g>
<g id="n406"><circle cx="514" cy="2178.7"/></g><g id="n407"><circle cx="514" cy="2198.9"/></g><g id="n408"><circle cx="514" cy="2219.2"/></g><g id="n409"><circle cx="514" cy="2239.5"/></g><g id="n410"><circle cx="514" cy="2259.7"/></g><g id="n411"><circle cx="514" cy="2280"/></g>
<g id="n412"><circle cx="496.7" cy="2300.3"/></g><g id="n413"><circle cx="496.7" cy="2320.6"/></g>
<g id="n414"><circle cx="530" cy="2300.3"/></g><g id="n415"><circle cx="530" cy="2320.6"/></g><g id="n416"><circle cx="530" cy="2340.8"/></g><g id="n417"><circle cx="530" cy="2361.1"/></g>
<g id="n418"><circle cx="447.3" cy="2340.8"/></g><g id="n419"><circle cx="447.3" cy="2361.1"/></g><g id="n420"><circle cx="447.3" cy="2381.4"/></g><g id="n421"><circle cx="447.3" cy="2401.6"/></g><g id="n422"><circle cx="447.3" cy="2421.9"/></g><g id="n423"><circle cx="447.3" cy="2442.2"/></g><g id="n424"><circle cx="447.3" cy="2462.4"/></g><g id="n425"><circle cx="447.3" cy="2482.7"/></g>
<g id="n426"><circle cx="480.7" cy="2340.8"/></g><g id="n427"><circle cx="480.7" cy="2361.1"/></g><g id="n428"><circle cx="480.7" cy="2381.4"/></g><g id="n429"><circle cx="480.7" cy="2401.6"/></g><g id="n430"><circle cx="480.7" cy="2421.9"/></g><g id="n431"><circle cx="480.7" cy="2442.2"/></g><g id="n432"><circle cx="480.7" cy="2462.4"/></g><g id="n433"><circle cx="480.7" cy="2482.7"/></g>
<g id="n434"><circle cx="347.3" cy="2097.6"/></g><g id="n435"><circle cx="347.3" cy="2117.9"/></g><g id="n436"><circle cx="347.3" cy="2138.1"/></g><g id="n437"><circle cx="347.3" cy="2158.4"/></g>
<g id="n438"><circle cx="380.7" cy="2097.6"/></g><g id="n439"><circle cx="380.7" cy="2117.9"/></g><g id="n440"><circle cx="380.7" cy="2138.1"/></g><g id="n441"><circle cx="380.7" cy="2158.4"/></g><g id="n442"><circle cx="380.7" cy="2178.7"/></g><g id="n443"><circle cx="380.7" cy="2198.9"/></g>
<g id="n444"><circle cx="414" cy="2097.6"/></g><g id="n445"><circle cx="414" cy="2117.9"/></g><g id="n446"><circle cx="414" cy="2138.1"/></g><g id="n447"><circle cx="414" cy="2158.4"/></g><g id="n448"><circle cx="414" cy="2178.7"/></g><g id="n449"><circle cx="414" cy="2198.9"/></g>
</g>
</svg>
